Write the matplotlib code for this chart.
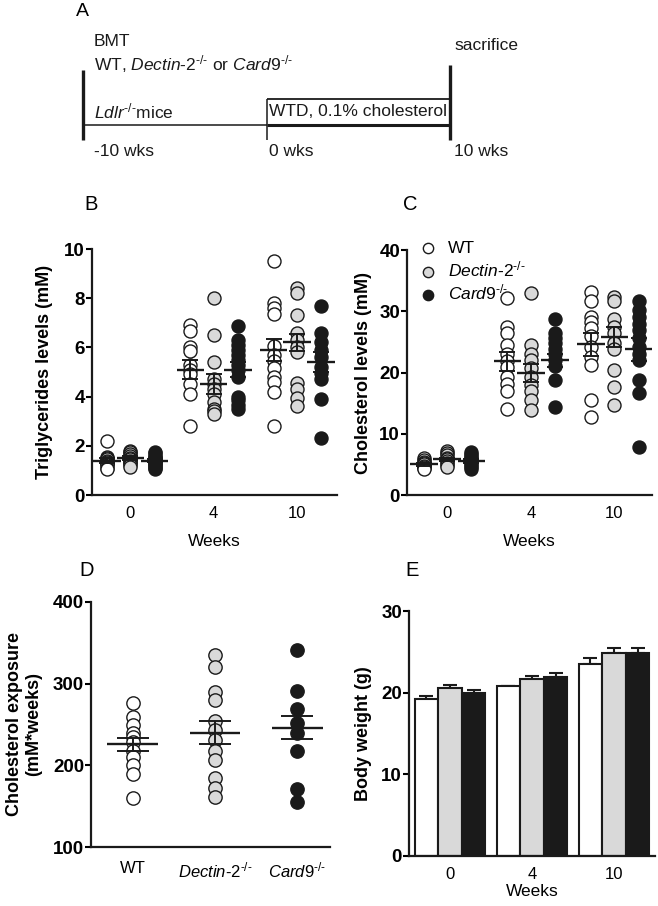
import numpy as np
import matplotlib
matplotlib.use("Agg")
import matplotlib.pyplot as plt

plt.rcParams['font.family'] = ['Liberation Sans', 'DejaVu Sans']
plt.rcParams['mathtext.fontset'] = 'custom'
plt.rcParams['mathtext.rm'] = 'Liberation Sans'
plt.rcParams['mathtext.it'] = 'Liberation Sans:italic'
plt.rcParams['mathtext.bf'] = 'Liberation Sans:bold'

# ---------------- data ----------------
weeks = ["0", "4", "10"]
groups = ["WT", "Dectin-2-/-", "Card9-/-"]

# Panel B: triglycerides (mM)
tg_wt = [[2.2, 1.55, 1.5, 1.45, 1.4, 1.35, 1.3, 1.25, 1.2, 1.1, 1.05],
         [6.9, 6.65, 6.0, 5.85, 5.3, 5.1, 4.9, 4.5, 4.1, 2.8],
         [9.5, 7.8, 7.6, 7.35, 6.05, 5.7, 5.45, 5.15, 4.8, 4.6, 4.2, 2.8]]
tg_d2 = [[1.8, 1.75, 1.65, 1.6, 1.5, 1.45, 1.4, 1.35, 1.3, 1.2, 1.15],
         [8.0, 6.5, 5.4, 4.7, 4.5, 4.3, 4.1, 3.8, 3.5, 3.4, 3.3],
         [8.4, 8.2, 7.3, 6.6, 6.3, 6.0, 5.8, 4.55, 4.3, 3.95, 3.6]]
tg_c9 = [[1.75, 1.7, 1.6, 1.55, 1.5, 1.45, 1.4, 1.35, 1.3, 1.25, 1.2, 1.15, 1.1, 1.05],
         [6.85, 6.3, 6.1, 5.9, 5.7, 5.5, 5.3, 5.1, 4.8, 4.0, 3.85, 3.65, 3.5],
         [7.7, 6.6, 6.2, 5.9, 5.6, 5.2, 4.95, 4.7, 3.9, 2.3]]
tg_mean = [[1.4, 5.1, 5.9], [1.5, 4.5, 6.2], [1.4, 5.1, 5.4]]
tg_sem = [[0.1, 0.4, 0.45], [0.07, 0.4, 0.35], [0.06, 0.3, 0.4]]

# Panel C: cholesterol (mM)
ch_wt = [[6.0, 5.7, 5.4, 5.2, 5.0, 4.8, 4.6, 4.4, 4.2],
         [32.1, 27.5, 26.4, 24.5, 23.1, 21.8, 20.9, 19.3, 18.2, 16.9, 14.1],
         [33.2, 31.6, 29.1, 28.3, 27.2, 25.9, 24.2, 22.6, 21.2, 15.5, 12.7]]
ch_d2 = [[7.2, 6.9, 6.5, 6.1, 5.8, 5.5, 5.2, 4.9, 4.6],
         [32.9, 24.5, 23.1, 22.0, 20.7, 19.3, 18.0, 16.9, 15.5, 13.9],
         [32.4, 31.6, 28.8, 27.5, 26.4, 24.8, 23.9, 20.4, 17.7, 14.7]]
ch_c9 = [[7.0, 6.7, 6.4, 6.1, 5.8, 5.5, 5.2, 4.9, 4.6, 4.3],
         [28.7, 26.4, 25.6, 24.8, 23.9, 23.1, 22.0, 21.0, 18.8, 14.4],
         [31.6, 30.2, 29.1, 28.0, 26.9, 25.6, 24.2, 23.1, 22.0, 18.8, 16.6, 7.9]]
ch_mean = [[5.0, 21.8, 24.6], [5.8, 19.9, 25.8], [5.5, 22.0, 23.8]]
ch_sem = [[0.3, 1.5, 1.9], [0.3, 1.5, 1.6], [0.3, 1.1, 1.9]]

# Panel D: cholesterol exposure (mM*weeks)
exp_wt = [276, 259, 249, 240, 235, 228, 218, 210, 200, 190, 160]
exp_d2 = [335, 320, 290, 280, 254, 243, 231, 218, 206, 184, 172, 161]
exp_c9 = [341, 291, 269, 252, 239, 218, 171, 155]
exp_mean = [226, 240, 246]
exp_sem = [8, 14, 14]

# Panel E: body weight (g)
bw_mean = [[19.2, 20.8, 23.5], [20.6, 21.7, 24.9], [20.0, 21.9, 24.8]]
bw_sem = [[0.4, 0.05, 0.8], [0.3, 0.3, 0.6], [0.3, 0.5, 0.7]]

colors = ["white", "#d9d9d9", "#1a1a1a"]
edge = "#1a1a1a"

KO = r"^{\text{-/-}}"
lab_d2 = r"$\mathit{Dectin}$-$\mathit{2}" + KO + "$"
lab_c9 = r"$\mathit{Card9}" + KO + "$"

TICK_Y = 13.5
TICK_X = 12
XLAB = 12.5
YLAB = 13

W, H = 658, 906
fig = plt.figure(figsize=(W / 100, H / 100), dpi=100)


def ax_px(l, t, r, b):
    return fig.add_axes([l / W, 1 - b / H, (r - l) / W, (b - t) / H])


def style(ax):
    ax.set_facecolor('none')
    for s in ['top', 'right']:
        ax.spines[s].set_visible(False)
    for s in ['left', 'bottom']:
        ax.spines[s].set_linewidth(1.6)
        ax.spines[s].set_color('#1a1a1a')
    ax.tick_params(axis='y', length=4, width=1.5, labelsize=TICK_Y, pad=1)
    ax.tick_params(axis='x', length=0, labelsize=TICK_X, pad=8)
    for lab in ax.get_yticklabels():
        lab.set_fontweight('bold')


# overlay axes for panel A and panel letters
ov = fig.add_axes([0, 0, 1, 1])
ov.set_xlim(0, W)
ov.set_ylim(H, 0)
ov.axis('off')
ov.set_zorder(-1)

lk = dict(color='#1a1a1a', solid_capstyle='butt')
ov.plot([83, 83], [70, 140], lw=2.4, **lk)
ov.plot([450, 450], [65, 140], lw=2.4, **lk)
ov.plot([83, 267], [125, 125], lw=1.1, **lk)
ov.plot([267, 267], [99, 140], lw=1.1, **lk)
ov.plot([267, 450], [99, 99], lw=1.3, **lk)
ov.plot([267, 450], [125, 125], lw=2.2, **lk)

tk = dict(fontsize=12.5, va='center', ha='left', color='#1a1a1a')
ov.text(76, 11, "A", fontsize=14, va='center', ha='left')
ov.text(94, 42, "BMT", **tk)
ov.text(94, 64, r"WT, $\mathit{Dectin}$-$\mathit{2}" + KO + r"$ or $\mathit{Card9}" + KO + "$", **tk)
ov.text(94, 111, r"$\mathit{Ldlr}" + KO + "$mice", **tk)
ov.text(269, 112, "WTD, 0.1% cholesterol", **tk)
ov.text(454, 46, "sacrifice", **tk)
ov.text(94, 152, "-10 wks", **tk)
ov.text(269, 152, "0 wks", **tk)
ov.text(454, 152, "10 wks", **tk)

for letter, x, y in [("B", 84, 205), ("C", 403, 205), ("D", 79, 570), ("E", 405, 570)]:
    ov.text(x, y, letter, fontsize=14.5, va='center', ha='left')

off = [-0.28, 0.0, 0.29]
gpos = np.arange(3)


def scatter_panel(ax, data_sets, means, sems, hw=0.165, cap=5.5, ms=88):
    for gi, dset in enumerate(data_sets):
        for wi in range(3):
            vals = dset[wi]
            x = np.full(len(vals), gpos[wi] + off[gi])
            ax.scatter(x, vals, s=ms, facecolor=colors[gi], edgecolor=edge,
                       linewidth=1.0, zorder=2, clip_on=False)
            m = means[gi][wi]
            xc = gpos[wi] + off[gi]
            ax.plot([xc - hw, xc + hw], [m, m], color='#1a1a1a', lw=1.7, zorder=4,
                    solid_capstyle='butt')
            ax.errorbar([xc], [m], yerr=[sems[gi][wi]], fmt='none', ecolor='#1a1a1a',
                        elinewidth=1.4, capsize=cap, capthick=1.4, zorder=4)


# Panel B
axB = ax_px(92, 249, 337, 495)
scatter_panel(axB, [tg_wt, tg_d2, tg_c9], tg_mean, tg_sem)
axB.set_xlim(-0.46, 2.48)
axB.set_ylim(0, 10)
axB.set_yticks([0, 2, 4, 6, 8, 10])
axB.set_xticks(gpos)
axB.set_xticklabels(weeks)
style(axB)
axB.set_ylabel("Triglycerides levels (mM)", fontsize=YLAB, fontweight='bold')
axB.yaxis.set_label_coords(-0.16, 0.5)
axB.set_xlabel("Weeks", fontsize=XLAB, labelpad=9)

# Panel C
axC = ax_px(407, 250, 652, 495)
scatter_panel(axC, [ch_wt, ch_d2, ch_c9], ch_mean, ch_sem)
axC.set_xlim(-0.48, 2.45)
axC.set_ylim(0, 40)
axC.set_yticks([0, 10, 20, 30, 40])
axC.set_xticks(gpos)
axC.set_xticklabels(weeks)
style(axC)
axC.set_ylabel("Cholesterol levels (mM)", fontsize=YLAB, fontweight='bold')
axC.yaxis.set_label_coords(-0.143, 0.5)
axC.set_xlabel("Weeks", fontsize=XLAB, labelpad=9)
handles = [axC.scatter([], [], s=55, facecolor=c, edgecolor=edge, linewidth=1.0) for c in colors]
axC.legend(handles, ["WT", lab_d2, lab_c9],
           loc='upper left', bbox_to_anchor=(0.0, 1.08), frameon=False, fontsize=12.5,
           handletextpad=0.55, labelspacing=0.2, borderaxespad=0.2, handlelength=1.2)

# Panel D
axD = ax_px(91, 602, 330, 847)
dpos = np.arange(3)
for gi, vals in enumerate([exp_wt, exp_d2, exp_c9]):
    axD.scatter(np.full(len(vals), dpos[gi]), vals, s=92, facecolor=colors[gi], edgecolor=edge,
                linewidth=1.0, zorder=2)
    m = exp_mean[gi]
    axD.plot([dpos[gi] - 0.31, dpos[gi] + 0.31], [m, m], color='#1a1a1a', lw=1.7, zorder=4,
             solid_capstyle='butt')
    axD.errorbar([dpos[gi]], [m], yerr=[exp_sem[gi]], fmt='none', ecolor='#1a1a1a',
                 elinewidth=1.4, capsize=11.5, capthick=1.4, zorder=4)
axD.set_xlim(-0.51, 2.40)
axD.set_ylim(100, 400)
axD.set_yticks([100, 200, 300, 400])
axD.set_xticks(dpos)
axD.set_xticklabels(["WT", lab_d2, lab_c9])
style(axD)
axD.tick_params(axis='x', pad=10)
axD.set_ylabel("Cholesterol exposure\n(mM*weeks)", fontsize=YLAB, fontweight='bold',
               linespacing=1.15)
axD.yaxis.set_label_coords(-0.205, 0.5)

# Panel E
axE = ax_px(409, 611, 655, 856)
bw = 0.287
for gi in range(3):
    xs = gpos + (gi - 1) * bw
    axE.bar(xs, bw_mean[gi], width=bw, color=colors[gi], edgecolor='#1a1a1a',
            linewidth=1.5, zorder=2)
    axE.errorbar(xs, bw_mean[gi], yerr=[np.zeros(3), bw_sem[gi]], fmt='none',
                 ecolor='#1a1a1a', elinewidth=1.5, capsize=5, capthick=1.5, zorder=1)
axE.set_xlim(-0.5, 2.5)
axE.set_ylim(0, 30)
axE.set_yticks([0, 10, 20, 30])
axE.set_xticks(gpos)
axE.set_xticklabels(weeks)
style(axE)
axE.tick_params(axis='x', pad=8)
axE.set_ylabel("Body weight (g)", fontsize=YLAB, fontweight='bold')
axE.yaxis.set_label_coords(-0.15, 0.5)
axE.set_xlabel("Weeks", fontsize=XLAB, labelpad=1)

fig.savefig("out.png", dpi=100)
